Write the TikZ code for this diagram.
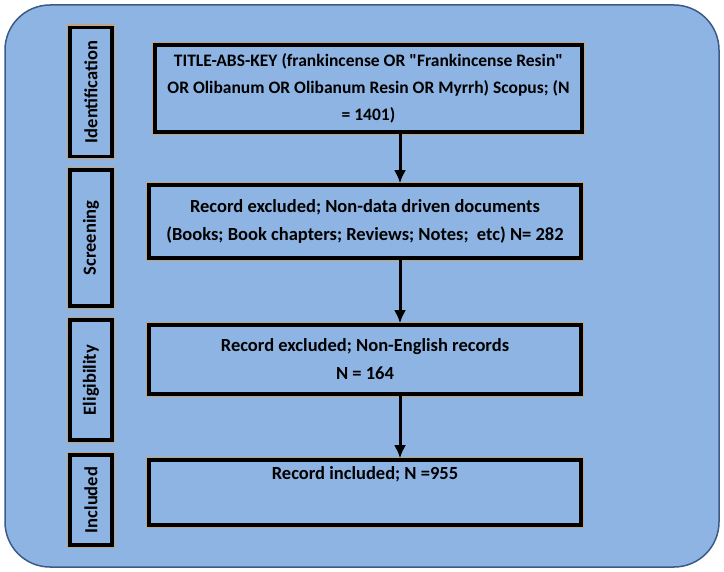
\documentclass[tikz,border=0pt]{standalone}
\usepackage{fontspec}
\setmainfont{Carlito}
\newfontfamily\plainquote{Carlito}[Ligatures=TeXOff]
\newcommand{\dq}{{\plainquote\bfseries "}}
\usetikzlibrary{positioning}
\definecolor{panelblue}{HTML}{8EB4E3}
\definecolor{paneledge}{HTML}{3B5A86}
\definecolor{glow}{HTML}{C4A47C}
\tikzset{
  stagebox/.style={draw=black, line width=3.5pt, fill=panelblue, inner sep=0pt,
    preaction={draw=glow, line width=6pt}},
  sidebox/.style={stagebox, minimum height=42pt, rotate=90, font=\fontsize{18.5}{22}\selectfont\bfseries},
  flowbox/.style={stagebox, minimum width=432pt, align=center, font=\fontsize{18.5}{28}\selectfont\bfseries},
  flowarrow/.style={line width=3pt, -{Latex[length=13pt,width=12pt]}}
}
\usetikzlibrary{arrows.meta}
\begin{document}
\begin{tikzpicture}[x=1pt,y=-1pt]
  \useasboundingbox (0,0) rectangle (724,572);
  % background panel
  \draw[paneledge, line width=1.5pt, fill=panelblue, rounded corners=45pt] (5,5) rectangle (719,567);

  % stage labels
  \node[sidebox, minimum width=129pt] (ident) at (91,92) {Identification};
  \node[sidebox, minimum width=136pt] (screen) at (91,238) {Screening};
  \node[sidebox, minimum width=120pt] (elig) at (91,380) {Eligibility};
  \node[sidebox, minimum width=90pt] (incl) at (91,500) {Included};

  % flow boxes
  \node[flowbox, minimum width=427pt, minimum height=87pt, font=\fontsize{17.5}{27}\selectfont\bfseries] (search) at (368.5,88.5)
    {TITLE-ABS-KEY (frankincense OR \dq Frankincense Resin\dq\\ OR Olibanum OR Olibanum Resin OR Myrrh) Scopus; (N\\ = 1401)};
  \node[flowbox, minimum height=73pt] (nondata) at (365,221.5)
    {Record excluded; Non-data driven documents\\ (Books; Book chapters; Reviews; Notes;~ etc) N= 282};
  \node[flowbox, minimum height=69pt] (english) at (365,359.5)
    {Record excluded; Non-English records\\ N = 164};
  \node[flowbox, minimum height=65pt] (included) at (365,492.5)
    {Record included; N =955\\[0.6em]};

  % arrows
  \draw[flowarrow] (search.south -| 400,0) -- (nondata.north -| 400,0);
  \draw[flowarrow] (nondata.south -| 400,0) -- (english.north -| 400,0);
  \draw[flowarrow] (english.south -| 400,0) -- (included.north -| 400,0);
\end{tikzpicture}
\end{document}
